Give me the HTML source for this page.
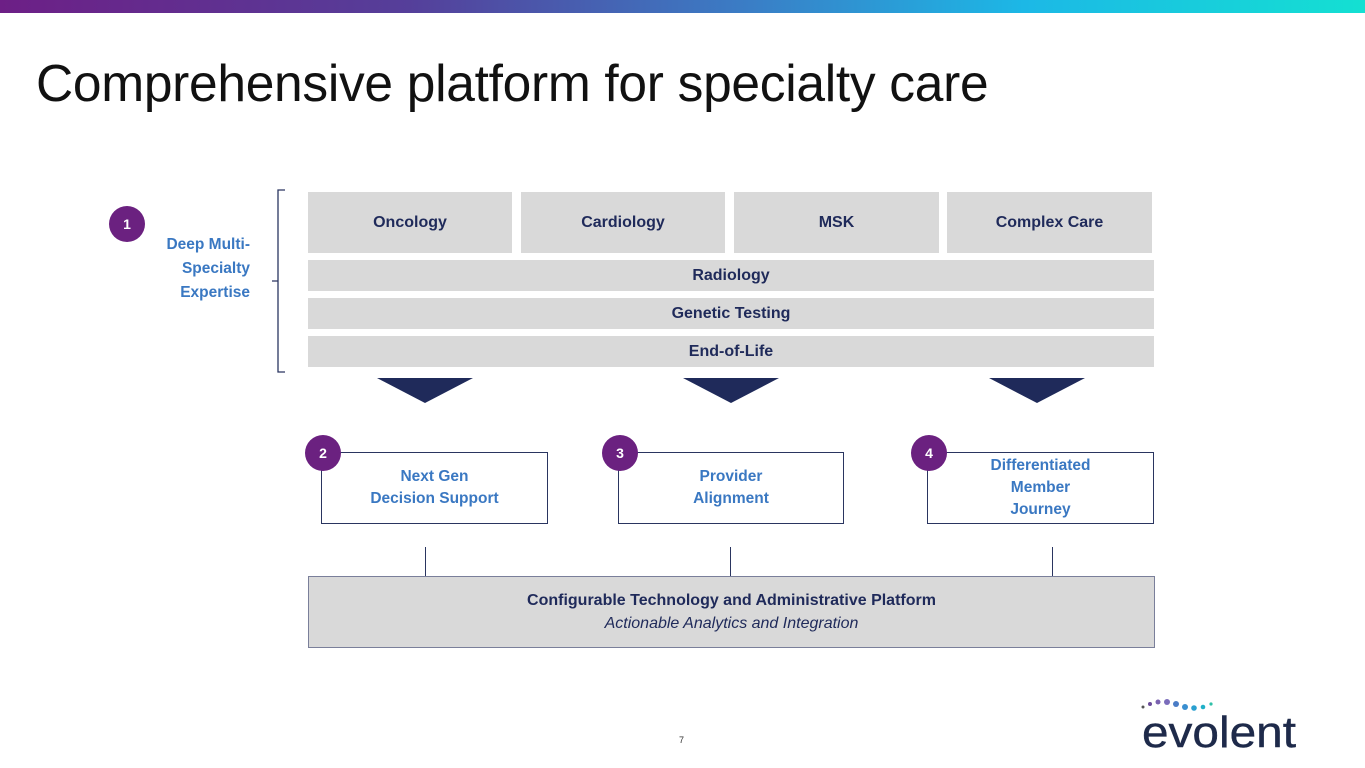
<!DOCTYPE html>
<html><head><style>
*{margin:0;padding:0;box-sizing:border-box}
body{width:1365px;height:768px;position:relative;background:#fff;font-family:"Liberation Sans",sans-serif;overflow:hidden}
.bar{position:absolute;left:0;top:0;width:1365px;height:13px;background:linear-gradient(90deg,#6d1f86,#553f9a 30%,#3a7ec6 55%,#1cb8e6 75%,#14e0d2)}
h1{position:absolute;left:36px;top:53px;font-size:51.5px;font-weight:normal;color:#111;letter-spacing:-0.3px;white-space:nowrap}
.g{position:absolute;background:#d9d9d9;color:#1f2a5a;font-weight:bold;font-size:16px;display:flex;align-items:center;justify-content:center}
.b{position:absolute;border:1.3px solid #2a3560;background:#fff;color:#3a78c2;font-weight:bold;font-size:15.5px;display:flex;align-items:center;justify-content:center;text-align:center;line-height:22px}
.c{position:absolute;width:36px;height:36px;border-radius:50%;background:#6b2180;color:#fff;font-weight:bold;font-size:14px;display:flex;align-items:center;justify-content:center}
.t{position:absolute;width:0;height:0;border-left:48px solid transparent;border-right:48px solid transparent;border-top:25px solid #1f2a5a}
.l{position:absolute;width:1.3px;background:#2a3560;top:547px;height:29px}
</style></head><body>
<div class="bar"></div>
<h1>Comprehensive platform for specialty care</h1>
<div class="c" style="left:109px;top:206px">1</div>
<div style="position:absolute;left:140px;top:233px;width:110px;text-align:right;color:#3a78c2;font-weight:bold;font-size:15.5px;line-height:24px">Deep Multi-<br>Specialty<br>Expertise</div>
<svg style="position:absolute;left:270px;top:188px" width="20" height="188"><path d="M15 2 H8 V184 H15 M8 93 H2" fill="none" stroke="#2a3560" stroke-width="1.3"/></svg>
<div class="g" style="left:308px;top:192px;width:204px;height:61px">Oncology</div>
<div class="g" style="left:521px;top:192px;width:204px;height:61px">Cardiology</div>
<div class="g" style="left:734px;top:192px;width:205px;height:61px">MSK</div>
<div class="g" style="left:947px;top:192px;width:205px;height:61px">Complex Care</div>
<div class="g" style="left:308px;top:260px;width:846px;height:31px">Radiology</div>
<div class="g" style="left:308px;top:298px;width:846px;height:31px">Genetic Testing</div>
<div class="g" style="left:308px;top:336px;width:846px;height:31px">End-of-Life</div>
<div class="t" style="left:377px;top:378px"></div>
<div class="t" style="left:683px;top:378px"></div>
<div class="t" style="left:989px;top:378px"></div>
<div class="b" style="left:321px;top:452px;width:227px;height:72px">Next Gen<br>Decision Support</div>
<div class="b" style="left:618px;top:452px;width:226px;height:72px">Provider<br>Alignment</div>
<div class="b" style="left:927px;top:452px;width:227px;height:72px">Differentiated<br>Member<br>Journey</div>
<div class="c" style="left:305px;top:435px">2</div>
<div class="c" style="left:602px;top:435px">3</div>
<div class="c" style="left:911px;top:435px">4</div>
<div class="l" style="left:425px"></div>
<div class="l" style="left:730px"></div>
<div class="l" style="left:1052px"></div>
<div class="g" style="left:308px;top:576px;width:847px;height:72px;border:1.3px solid #7a7f9a;flex-direction:column;line-height:23px"><span>Configurable Technology and Administrative Platform</span><span style="font-weight:normal;font-style:italic">Actionable Analytics and Integration</span></div>
<div style="position:absolute;left:679px;top:735px;font-size:9px;color:#333">7</div>
<svg style="position:absolute;left:1140px;top:696px" width="170" height="60">
<g><circle cx="3" cy="11" r="1.5" fill="#555"/><circle cx="10" cy="8" r="2" fill="#6b4c9a"/><circle cx="18" cy="6" r="2.5" fill="#7a62b0"/><circle cx="27" cy="6" r="3" fill="#7a6cbb"/><circle cx="36" cy="8" r="3" fill="#4a7cc6"/><circle cx="45" cy="11" r="3" fill="#3a8fd0"/><circle cx="54" cy="12" r="2.8" fill="#2aa0d0"/><circle cx="63" cy="11" r="2.3" fill="#20b0c8"/><circle cx="71" cy="8" r="1.6" fill="#30c0a8"/></g>
<text x="2" y="51" font-family="Liberation Sans,sans-serif" font-size="44" fill="#1e2a4a" stroke="#1e2a4a" stroke-width="0.4" textLength="154" lengthAdjust="spacingAndGlyphs">evolent</text>
</svg>
</body></html>
